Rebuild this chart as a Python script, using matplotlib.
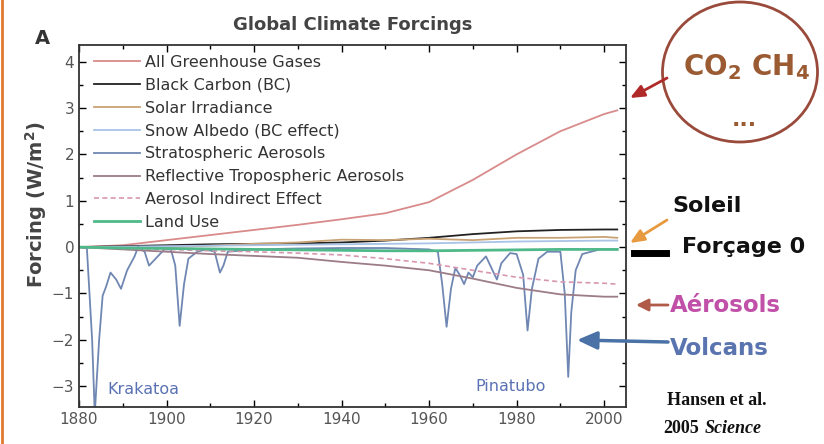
import matplotlib
matplotlib.use("Agg")
import matplotlib.pyplot as plt
from matplotlib.patches import Ellipse, FancyArrowPatch
from matplotlib.lines import Line2D
from matplotlib.ticker import MultipleLocator

W, H = 824, 444

# ---- data (W/m2) ----
yrs_smooth = [1880, 1890, 1900, 1910, 1920, 1930, 1940, 1950, 1960, 1970, 1980, 1990, 2000, 2003]
ghg        = [0.0, 0.04, 0.15, 0.26, 0.37, 0.48, 0.6, 0.73, 0.97, 1.45, 2.0, 2.5, 2.87, 2.95]
black_c    = [0.0, 0.02, 0.04, 0.06, 0.07, 0.08, 0.1, 0.14, 0.2, 0.28, 0.34, 0.37, 0.38, 0.38]
solar      = [0.0, -0.02, 0.0, 0.03, 0.07, 0.1, 0.16, 0.15, 0.18, 0.15, 0.2, 0.2, 0.22, 0.2]
snow_alb   = [0.0, 0.01, 0.02, 0.03, 0.04, 0.05, 0.06, 0.07, 0.08, 0.1, 0.12, 0.13, 0.14, 0.14]
refl_aer   = [0.0, -0.05, -0.1, -0.15, -0.19, -0.23, -0.32, -0.4, -0.5, -0.68, -0.88, -1.02, -1.07, -1.07]
indirect   = [0.0, -0.03, -0.05, -0.08, -0.1, -0.13, -0.17, -0.25, -0.35, -0.5, -0.65, -0.75, -0.78, -0.8]
land_use   = [0.0, -0.02, -0.03, -0.04, -0.05, -0.06, -0.07, -0.08, -0.08, -0.07, -0.06, -0.05, -0.05, -0.05]

yrs_volc = [1880, 1881.8, 1883.0, 1883.6, 1884.6, 1885.4, 1886.2, 1887.2, 1888.5, 1889.6, 1891,
            1892.7, 1893.5, 1895, 1896, 1897, 1898, 1899.5, 1901, 1902, 1903, 1904, 1905, 1907,
            1909, 1911, 1912.2, 1913, 1914, 1920, 1930, 1940, 1950, 1960, 1962, 1963, 1964, 1965,
            1966, 1967, 1968, 1969, 1970, 1971, 1973, 1974.5, 1975.5, 1976.5, 1978.5, 1980,
            1981.5, 1982.5, 1983.5, 1985, 1987, 1990, 1991, 1991.8, 1992.5, 1993.5, 1995, 1999, 2003]
strat_aer = [0.0, -0.02, -2.0, -3.6, -2.0, -1.05, -0.85, -0.55, -0.7, -0.9, -0.5,
             -0.2, 0.0, -0.1, -0.4, -0.3, -0.2, -0.05, -0.05, -0.4, -1.7, -0.8, -0.25, -0.1,
             -0.05, -0.1, -0.55, -0.4, -0.1, -0.05, -0.03, -0.02, -0.02, -0.05, -0.1, -0.8, -1.72, -0.9,
             -0.45, -0.6, -0.8, -0.55, -0.65, -0.4, -0.2, -0.5, -0.7, -0.35, -0.13, -0.15,
             -0.6, -1.8, -0.9, -0.25, -0.1, -0.1, -1.0, -2.8, -1.4, -0.5, -0.15, -0.05, -0.05]

labels = ["All Greenhouse Gases", "Black Carbon (BC)", "Solar Irradiance", "Snow Albedo (BC effect)",
          "Stratospheric Aerosols", "Reflective Tropospheric Aerosols", "Aerosol Indirect Effect", "Land Use"]
colors = ["#d98a8a", "#222222", "#c9a274", "#a9c3e6", "#6f87b2", "#9c7c88", "#d896b0", "#4fb98a"]


def fx(x):
    return x / W


def fy(y):
    return 1 - y / H


fig = plt.figure(figsize=(W / 100, H / 100), dpi=100)
ax = fig.add_axes([fx(79), fy(407), fx(626) - fx(79), fy(45) - fy(407)])

series = [ghg, black_c, solar, snow_alb, None, refl_aer, indirect, land_use]
for lab, col, vals in zip(labels, colors, series):
    if vals is None:
        ax.plot(yrs_volc, strat_aer, color=col, lw=1.3, label=lab)
    elif lab == "Aerosol Indirect Effect":
        ax.plot(yrs_smooth, vals, color=col, lw=1.2, ls=(0, (3, 2)), label=lab)
    elif lab == "Land Use":
        ax.plot(yrs_smooth, vals, color=col, lw=2.0, label=lab)
    else:
        ax.plot(yrs_smooth, vals, color=col, lw=1.3, label=lab)

ax.set_xlim(1880, 2005)
ax.set_ylim(-3.45, 4.36)
ax.xaxis.set_major_locator(MultipleLocator(20))
ax.xaxis.set_minor_locator(MultipleLocator(10))
ax.yaxis.set_major_locator(MultipleLocator(1))
ax.yaxis.set_minor_locator(MultipleLocator(0.5))
ax.tick_params(which="both", direction="in", top=True, right=True, labelcolor="#555555",
               labelsize=11, width=1)
ax.tick_params(which="major", length=5)
ax.tick_params(which="minor", length=3)
for s in ax.spines.values():
    s.set_linewidth(1.3)
    s.set_color("#333333")

leg = ax.legend(loc="upper left", frameon=False, fontsize=11.5, handlelength=2.9,
                handletextpad=0.3, labelspacing=0.49, borderaxespad=0.0,
                bbox_to_anchor=(0.015, 0.99))
for t in leg.get_texts():
    t.set_color("#333333")

ax.set_title("Global Climate Forcings", fontsize=13, fontweight="bold", color="#444444", pad=11)
ax.text(1886.5, -3.08, "Krakatoa", color="#5a72b4", fontsize=11.5, va="center")
ax.text(1970.5, -3.0, "Pinatubo", color="#5a72b4", fontsize=11.5, va="center")

fig.text(fx(42), fy(38), "A", fontsize=14, fontweight="bold", color="#333333", ha="center", va="center")
fig.text(fx(36), fy(205), "Forcing (W/m$^\\mathbf{2}$)", rotation=90, fontsize=14, fontweight="bold",
         color="#444444", ha="center", va="center")

# ---- annotations on the right ----
fig.add_artist(Ellipse((fx(740), fy(72)), 155 / W, 140 / H, transform=fig.transFigure,
                       fill=False, edgecolor="#9a4a3a", lw=2))
fig.text(fx(746), fy(67), "CO$_\\mathbf{2}$ CH$_\\mathbf{4}$", fontsize=20, fontweight="bold",
         color="#9a5a32", ha="center", va="center")
fig.text(fx(744), fy(120), "...", fontsize=16, fontweight="bold", color="#9a5a32", ha="center", va="center")


def arrow(x0, y0, x1, y1, col, lw=2.0, hl=0.7, hw=0.3):
    fig.add_artist(FancyArrowPatch(
        (fx(x0), fy(y0)), (fx(x1), fy(y1)), transform=fig.transFigure,
        arrowstyle=f"-|>,head_length={hl},head_width={hw}", mutation_scale=12,
        color=col, lw=lw, shrinkA=0, shrinkB=0))


arrow(667, 78, 630, 98, "#b02a2a")
fig.text(fx(672), fy(206), "Soleil", fontsize=16, fontweight="bold", color="#111111", va="center")
arrow(667, 220, 630, 243, "#e89a40")
fig.add_artist(Line2D([fx(634), fx(666)], [fy(253), fy(253)], transform=fig.transFigure,
                      color="black", lw=5))
fig.text(fx(682), fy(247), "Forçage 0", fontsize=16, fontweight="bold", color="#111111", va="center")
arrow(668, 305, 636, 305, "#b05a48", hl=0.6, hw=0.3)
fig.text(fx(670), fy(305), "Aérosols", fontsize=16.5, fontweight="bold", color="#c050a8", va="center")
arrow(668, 342, 577, 340, "#4a72a6", lw=2.5, hl=1.0, hw=0.45)
fig.text(fx(670), fy(348), "Volcans", fontsize=16.5, fontweight="bold", color="#5a74b0", va="center")
fig.text(fx(667), fy(400), "Hansen et al.", fontsize=13, fontweight="bold", family="Liberation Serif",
         color="#111111", va="center")
fig.text(fx(663), fy(428), "2005", fontsize=13, fontweight="bold", family="Liberation Serif",
         color="#111111", va="center")
fig.text(fx(705), fy(428), "Science", fontsize=13, fontweight="bold", style="italic",
         family="Liberation Serif", color="#111111", va="center")

# orange border at the left edge
fig.add_artist(Line2D([0.002, 0.002], [0, 1], transform=fig.transFigure, color="#e07a30", lw=2))

fig.savefig("out.png", dpi=100)
